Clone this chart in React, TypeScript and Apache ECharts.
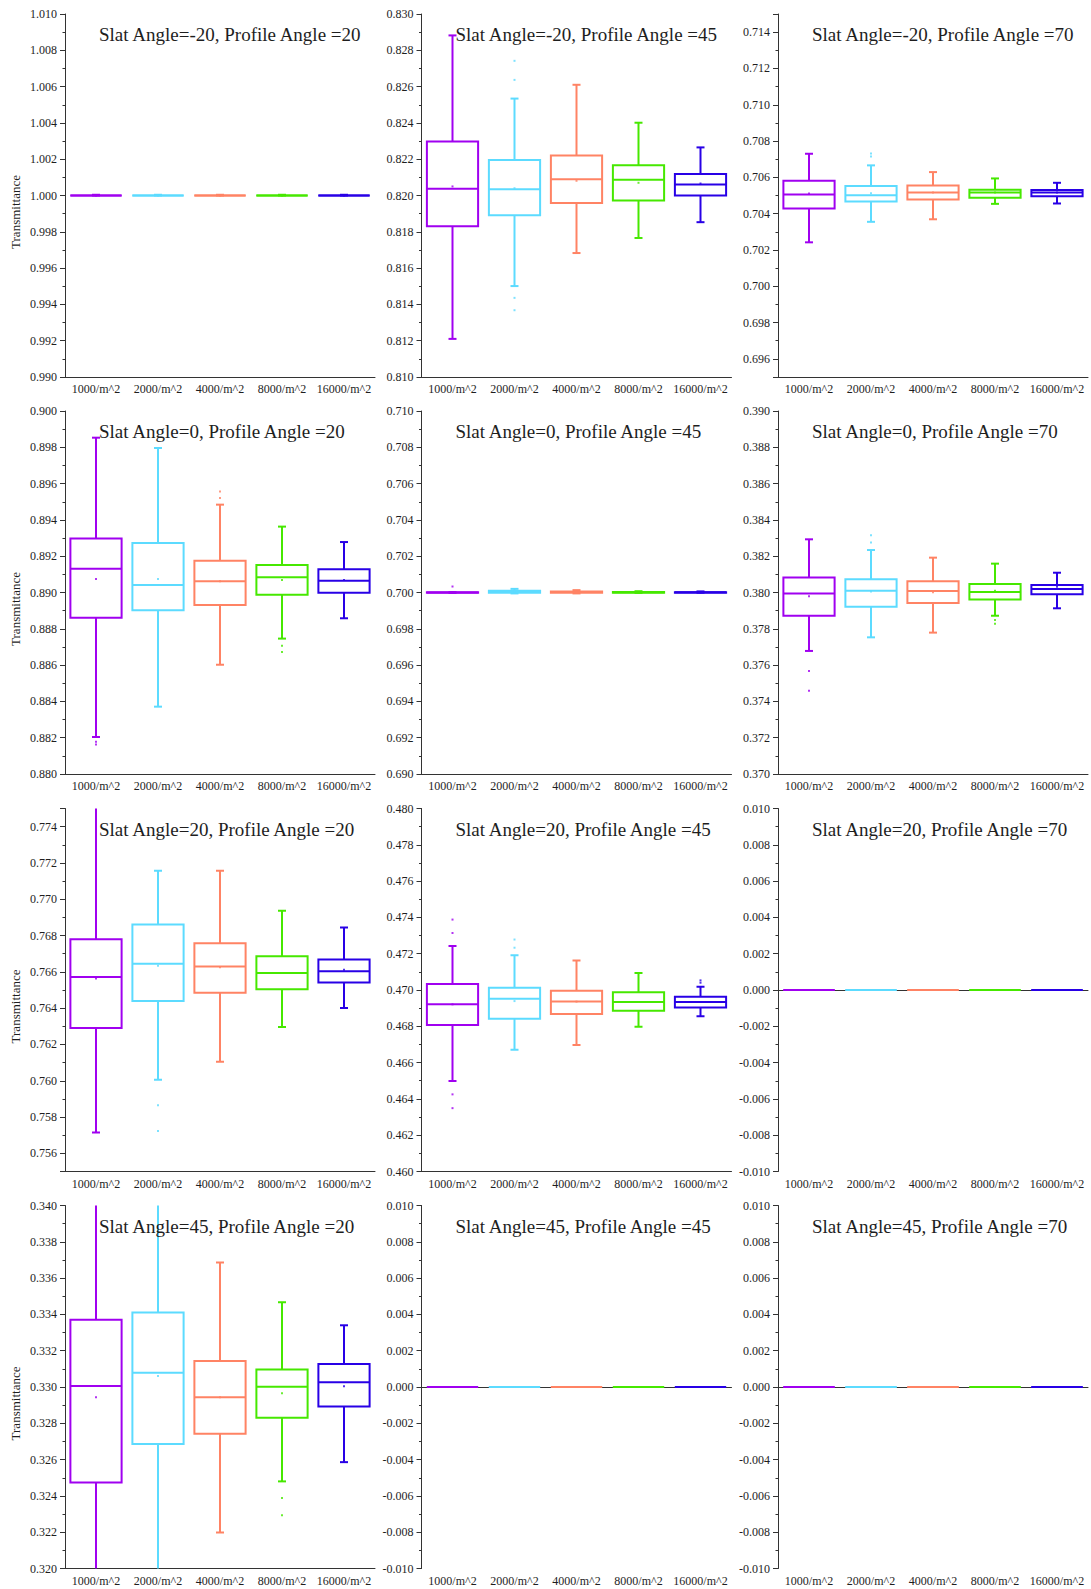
import React, { useEffect, useRef } from "react";
import * as echarts from "echarts";

// Category labels (sensor density) and box colours, one per category
const CATEGORIES = ["1000/m^2", "2000/m^2", "4000/m^2", "8000/m^2", "16000/m^2"];
const COLORS = ["#A000F0", "#5CDBFF", "#FF8364", "#46E800", "#2800E6"];

const SLAT_ANGLES = [-20, 0, 20, 45];
const PROFILE_ANGLES = [20, 45, 70];

// Lower bound of each panel's y range (every panel spans 0.020)
const Y_MIN = [
  [0.99, 0.81, 0.695],
  [0.88, 0.69, 0.37],
  [0.755, 0.46, -0.01],
  [0.32, -0.01, -0.01],
];
const Y_SPAN = 0.02;

// Box statistics per category: [lower whisker, Q1, median, Q3, upper whisker]
const BOX_S_M20_P20 = [
  [1.0, 1.0, 1.0, 1.0, 1.00004],
  [1.0, 1.0, 1.0, 1.0, 1.00004],
  [1.0, 1.0, 1.0, 1.0, 1.00004],
  [1.0, 1.0, 1.0, 1.0, 1.00004],
  [1.0, 1.0, 1.0, 1.0, 1.00004],
];
const BOX_S_M20_P45 = [
  [0.8121, 0.81831, 0.82037, 0.82298, 0.82882],
  [0.81501, 0.81891, 0.82035, 0.82195, 0.82534],
  [0.81683, 0.81958, 0.8209, 0.82221, 0.8261],
  [0.81766, 0.81972, 0.82087, 0.82166, 0.82401],
  [0.81853, 0.82, 0.82061, 0.82118, 0.82265],
];
const BOX_S_M20_P70 = [
  [0.70242, 0.70428, 0.70506, 0.70581, 0.7073],
  [0.70355, 0.70467, 0.70502, 0.70552, 0.70666],
  [0.70369, 0.70478, 0.70517, 0.70555, 0.70629],
  [0.70454, 0.70487, 0.70517, 0.70531, 0.70594],
  [0.70456, 0.70496, 0.70517, 0.7053, 0.7057],
];
const BOX_S0_P20 = [
  [0.88204, 0.88861, 0.89131, 0.89298, 0.89853],
  [0.88371, 0.88902, 0.89041, 0.89273, 0.89796],
  [0.88602, 0.88931, 0.89062, 0.89175, 0.89484],
  [0.88746, 0.88988, 0.89084, 0.89152, 0.89363],
  [0.88858, 0.88999, 0.89065, 0.89128, 0.89278],
];
const BOX_S0_P45 = [
  [0.69998, 0.69999, 0.7, 0.70001, 0.70002],
  [0.69995, 0.69998, 0.70004, 0.7001, 0.7002],
  [0.69995, 0.69999, 0.70003, 0.70006, 0.70013],
  [0.69998, 0.69999, 0.70001, 0.70003, 0.70007],
  [0.69999, 0.69999, 0.70001, 0.70002, 0.70006],
];
const BOX_S0_P70 = [
  [0.37678, 0.37872, 0.37995, 0.38082, 0.38293],
  [0.37753, 0.37922, 0.3801, 0.38073, 0.38234],
  [0.37779, 0.37942, 0.38008, 0.38062, 0.38192],
  [0.37872, 0.37962, 0.38003, 0.38047, 0.38159],
  [0.37913, 0.3799, 0.38019, 0.38041, 0.38109],
];
const BOX_S20_P20 = [
  [0.75715, 0.7629, 0.76572, 0.7678, 0.776],
  [0.76006, 0.76439, 0.76645, 0.76861, 0.77157],
  [0.76104, 0.76485, 0.76629, 0.76758, 0.77157],
  [0.76296, 0.76504, 0.76594, 0.76686, 0.76936],
  [0.76401, 0.76542, 0.76603, 0.76668, 0.76844],
];
const BOX_S20_P45 = [
  [0.46498, 0.46807, 0.46921, 0.47033, 0.47243],
  [0.46671, 0.46842, 0.46952, 0.47013, 0.47191],
  [0.46697, 0.46868, 0.46936, 0.46996, 0.47162],
  [0.46798, 0.46886, 0.46934, 0.46987, 0.47094],
  [0.46855, 0.46904, 0.46934, 0.46963, 0.47018],
];
const BOX_ZERO = [
  [0, 0, 0, 0, 0],
  [0, 0, 0, 0, 0],
  [0, 0, 0, 0, 0],
  [0, 0, 0, 0, 0],
  [0, 0, 0, 0, 0],
];
const BOX_S45_P20 = [
  [0.3195, 0.32474, 0.33006, 0.33371, 0.3405],
  [0.3195, 0.32686, 0.33079, 0.3341, 0.3405],
  [0.32199, 0.32743, 0.32943, 0.33143, 0.33686],
  [0.3248, 0.32831, 0.33002, 0.33097, 0.33467],
  [0.32586, 0.32893, 0.33026, 0.33127, 0.3334],
];

// Mean value per category
const MEAN_S_M20_P20 = [1.0, 1.0, 1.0, 1.0, 1.0];
const MEAN_S_M20_P45 = [0.8205, 0.8204, 0.82081, 0.8207, 0.82066];
const MEAN_S_M20_P70 = [0.70511, 0.70513, 0.70517, 0.70517, 0.70517];
const MEAN_S0_P20 = [0.89074, 0.89074, 0.89062, 0.89069, 0.89069];
const MEAN_S0_P45 = [0.7, 0.70005, 0.70003, 0.70001, 0.70001];
const MEAN_S0_P70 = [0.37979, 0.38005, 0.38001, 0.3801, 0.38032];
const MEAN_S20_P20 = [0.76563, 0.76634, 0.76625, 0.76594, 0.76611];
const MEAN_S20_P45 = [0.46921, 0.46939, 0.46936, 0.46934, 0.46934];
const MEAN_ZERO = [0, 0, 0, 0, 0];
const MEAN_S45_P20 = [0.32943, 0.33061, 0.32943, 0.32965, 0.33004];

// Outliers: [category index, value]
const OUT_S_M20_P45 = [[1, 0.82742], [1, 0.82637], [1, 0.81436], [1, 0.81368]];
const OUT_S_M20_P70 = [[1, 0.70732], [1, 0.70715]];
const OUT_S0_P20 = [[0, 0.88178], [0, 0.88163], [2, 0.89557], [2, 0.89521], [3, 0.88707], [3, 0.88672]];
const OUT_S0_P45 = [[0, 0.70033]];
const OUT_S0_P70 = [[0, 0.37568], [0, 0.37459], [1, 0.38315], [1, 0.38275], [3, 0.37849], [3, 0.37828]];
const OUT_S20_P20 = [[1, 0.75865], [1, 0.75723]];
const OUT_S20_P45 = [
  [0, 0.47388], [0, 0.47314], [0, 0.46425], [0, 0.46349],
  [1, 0.47278], [1, 0.47233], [4, 0.47053], [4, 0.4704],
];
const OUT_S45_P20 = [[2, 0.33875], [3, 0.32388], [3, 0.32294]];

const PANELS = [
  [
    { box: BOX_S_M20_P20, mean: MEAN_S_M20_P20, out: [] as number[][] },
    { box: BOX_S_M20_P45, mean: MEAN_S_M20_P45, out: OUT_S_M20_P45 },
    { box: BOX_S_M20_P70, mean: MEAN_S_M20_P70, out: OUT_S_M20_P70 },
  ],
  [
    { box: BOX_S0_P20, mean: MEAN_S0_P20, out: OUT_S0_P20 },
    { box: BOX_S0_P45, mean: MEAN_S0_P45, out: OUT_S0_P45 },
    { box: BOX_S0_P70, mean: MEAN_S0_P70, out: OUT_S0_P70 },
  ],
  [
    { box: BOX_S20_P20, mean: MEAN_S20_P20, out: OUT_S20_P20 },
    { box: BOX_S20_P45, mean: MEAN_S20_P45, out: OUT_S20_P45 },
    { box: BOX_ZERO, mean: MEAN_ZERO, out: [] as number[][] },
  ],
  [
    { box: BOX_S45_P20, mean: MEAN_S45_P20, out: OUT_S45_P20 },
    { box: BOX_ZERO, mean: MEAN_ZERO, out: [] as number[][] },
    { box: BOX_ZERO, mean: MEAN_ZERO, out: [] as number[][] },
  ],
];

// Layout of the 4 x 3 panel grid
const GRID_LEFT = [65, 421.5, 778];
const GRID_TOP = [14, 411, 808.5, 1205.5];
const GRID_W = 310;
const GRID_H = 363;

const FONT = '"Liberation Serif", "Times New Roman", serif';
const AXIS_COLOR = "#333";
const TEXT_COLOR = "#1e1e1e";

const majorLabel = (v: number) => {
  const k = Math.round(v * 1000);
  if (Math.abs(v * 1000 - k) > 1e-6 || k % 2 !== 0) return "";
  return (k / 1000).toFixed(3);
};

function buildOption() {
  const grid: any[] = [];
  const xAxis: any[] = [];
  const yAxis: any[] = [];
  const series: any[] = [];
  const title: any[] = [];
  const graphic: any[] = [];

  SLAT_ANGLES.forEach((slat, r) => {
    PROFILE_ANGLES.forEach((prof, c) => {
      const g = r * 3 + c;
      const min = Y_MIN[r][c];
      const max = +(min + Y_SPAN).toFixed(3);
      const panel = PANELS[r][c];

      grid.push({ left: GRID_LEFT[c], top: GRID_TOP[r], width: GRID_W, height: GRID_H });

      xAxis.push({
        gridIndex: g,
        type: "category",
        data: CATEGORIES,
        boundaryGap: true,
        axisLine: { lineStyle: { color: AXIS_COLOR, width: 1 } },
        axisTick: { alignWithLabel: true, length: 3, lineStyle: { color: AXIS_COLOR } },
        axisLabel: { interval: 0, fontSize: 12, margin: 6, color: TEXT_COLOR, fontFamily: FONT },
        splitLine: { show: false },
      });

      // minor ticks every 0.001, carrying the axis line
      yAxis.push({
        gridIndex: g,
        type: "value",
        position: "left",
        min,
        max,
        interval: 0.001,
        axisLine: { show: true, lineStyle: { color: AXIS_COLOR, width: 1 } },
        axisTick: { show: true, length: 2.5, lineStyle: { color: AXIS_COLOR } },
        axisLabel: { show: false },
        splitLine: { show: false },
      });
      // labelled major ticks every 0.002
      yAxis.push({
        gridIndex: g,
        type: "value",
        position: "left",
        min,
        max,
        splitNumber: 10,
        axisLine: { show: false },
        axisTick: { show: true, length: 5, lineStyle: { color: AXIS_COLOR } },
        axisLabel: {
          formatter: majorLabel,
          fontSize: 12,
          margin: 8,
          color: TEXT_COLOR,
          fontFamily: FONT,
        },
        splitLine: { show: false },
      });

      series.push({
        type: "custom",
        xAxisIndex: g,
        yAxisIndex: 2 * g,
        clip: true,
        silent: true,
        encode: { x: 0, y: [1, 2, 3, 4, 5] },
        data: panel.box.map((b, i) => [i, ...b]),
        renderItem: (_params: any, api: any) => {
          const idx = api.value(0);
          const lo = api.coord([idx, api.value(1)]);
          const q1 = api.coord([idx, api.value(2)]);
          const md = api.coord([idx, api.value(3)]);
          const q3 = api.coord([idx, api.value(4)]);
          const hi = api.coord([idx, api.value(5)]);
          const half = api.size([1, 0])[0] * 0.413;
          const cap = 4;
          const cx = md[0];
          const style = { stroke: COLORS[idx], lineWidth: 2, fill: "none" };
          return {
            type: "group",
            children: [
              { type: "line", shape: { x1: cx, y1: q3[1], x2: cx, y2: hi[1] }, style },
              { type: "line", shape: { x1: cx - cap, y1: hi[1], x2: cx + cap, y2: hi[1] }, style },
              { type: "line", shape: { x1: cx, y1: q1[1], x2: cx, y2: lo[1] }, style },
              { type: "line", shape: { x1: cx - cap, y1: lo[1], x2: cx + cap, y2: lo[1] }, style },
              {
                type: "rect",
                shape: { x: cx - half, y: q3[1], width: 2 * half, height: q1[1] - q3[1] },
                style,
              },
              { type: "line", shape: { x1: cx - half, y1: md[1], x2: cx + half, y2: md[1] }, style },
            ],
          };
        },
      });

      series.push({
        type: "scatter",
        xAxisIndex: g,
        yAxisIndex: 2 * g,
        silent: true,
        clip: true,
        symbol: "rect",
        symbolSize: 2,
        itemStyle: { color: (p: any) => COLORS[p.data[0]] },
        data: panel.mean.map((m, i) => [i, m]),
      });

      series.push({
        type: "scatter",
        xAxisIndex: g,
        yAxisIndex: 2 * g,
        silent: true,
        clip: true,
        symbol: "rect",
        symbolSize: [2, 2],
        itemStyle: { color: (p: any) => COLORS[p.data[0]] },
        data: panel.out,
      });

      title.push({
        text: `Slat Angle=${slat}, Profile Angle =${prof}`,
        left: GRID_LEFT[c] + 34,
        top: GRID_TOP[r] + 11,
        padding: 0,
        textStyle: { fontFamily: FONT, fontSize: 19, fontWeight: "normal", color: TEXT_COLOR },
      });
    });

    graphic.push({
      type: "text",
      x: 15,
      y: GRID_TOP[r] + 198,
      rotation: Math.PI / 2,
      silent: true,
      style: {
        text: "Transmittance",
        fontFamily: FONT,
        fontSize: 13,
        fill: TEXT_COLOR,
        align: "center",
        verticalAlign: "middle",
      },
    });
  });

  return {
    animation: false,
    backgroundColor: "#ffffff",
    title,
    grid,
    xAxis,
    yAxis,
    series,
    graphic,
  };
}

export default function App() {
  const ref = useRef<HTMLDivElement>(null);

  useEffect(() => {
    if (!ref.current) return;
    const chart = echarts.init(ref.current, undefined, { renderer: "svg" });
    chart.setOption(buildOption() as any);
    return () => chart.dispose();
  }, []);

  return (
    <div
      ref={ref}
      style={{ position: "absolute", left: 0, top: 0, width: 1091, height: 1589, background: "#fff" }}
    />
  );
}
